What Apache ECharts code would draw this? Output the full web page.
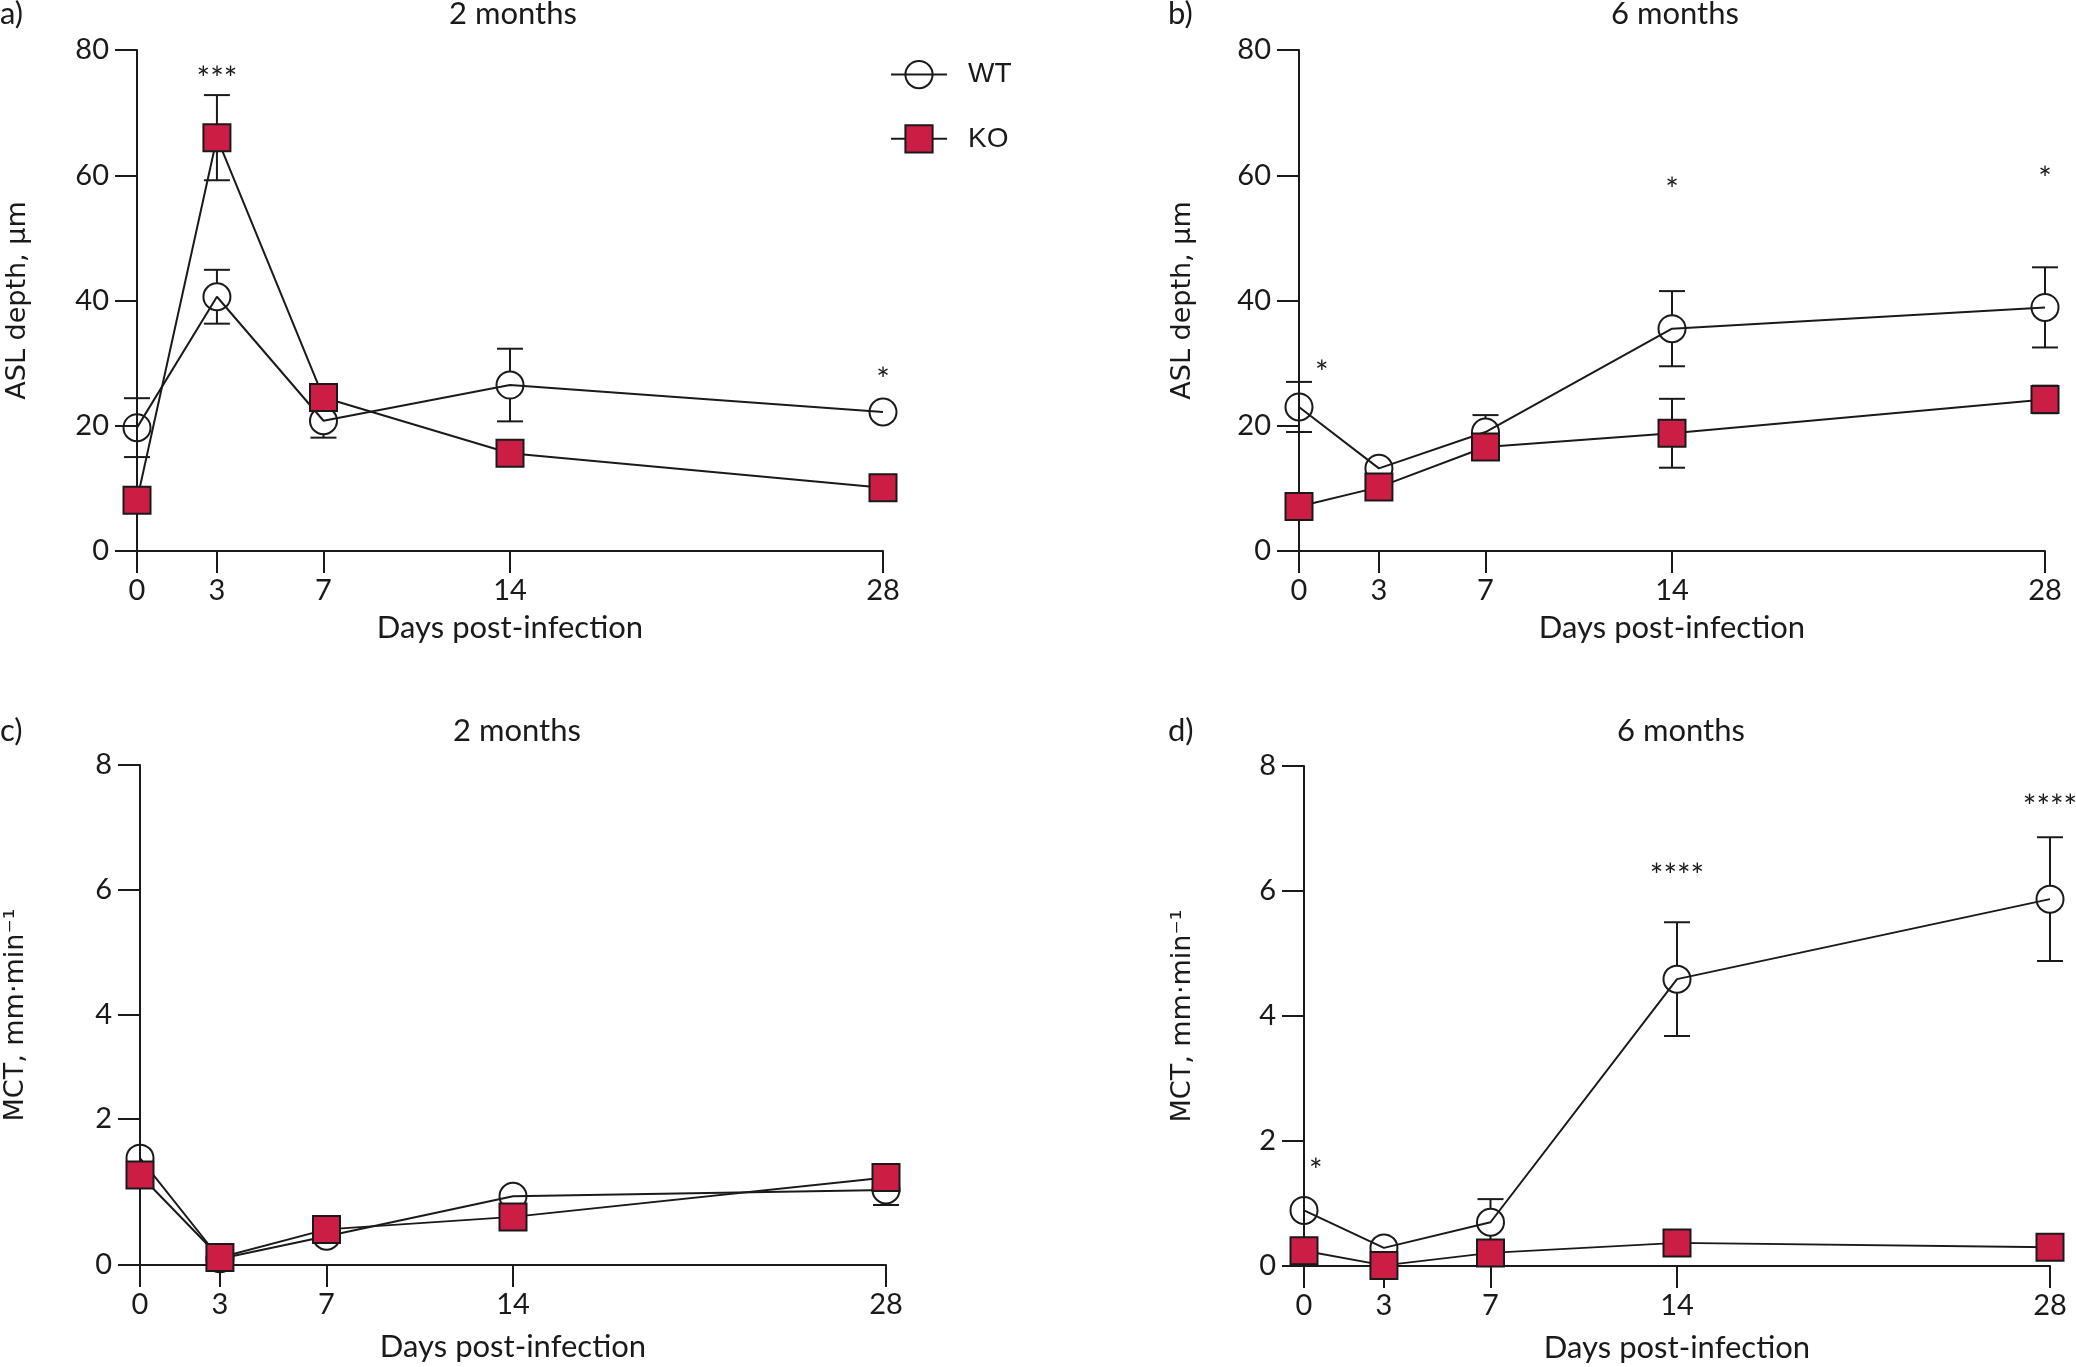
<!DOCTYPE html>
<html>
<head>
<meta charset="utf-8">
<script src="https://cdn.jsdelivr.net/npm/echarts@6/dist/echarts.min.js"></script>
<style>
  html, body { margin: 0; padding: 0; background: #fff; }
  #chart { width: 2076px; height: 1367px; }
</style>
</head>
<body>
<div id="chart"></div>
<script>
// x 轴：感染后天数
const days = [0, 3, 7, 14, 28];
const dayTicks = [0, 3, 7, 14, 28];

// a) ASL depth, 2 months
const aslWt2 = [19.7, 40.6, 20.8, 26.5, 22.2];
const aslWt2Err = [4.7, 4.3, 2.7, 5.8, 0.8];
const aslKo2 = [8.1, 66.0, 24.5, 15.6, 10.1];
const aslKo2Err = [1.0, 6.8, 1.5, 1.0, 1.0];

// b) ASL depth, 6 months
const aslWt6 = [23.0, 13.2, 19.0, 35.5, 38.9];
const aslWt6Err = [4.0, 1.0, 2.7, 6.0, 6.4];
const aslKo6 = [7.1, 10.2, 16.6, 18.8, 24.2];
const aslKo6Err = [1.0, 1.0, 1.2, 5.5, 2.2];

// c) MCT, 2 months
const mctWt2 = [1.71, 0.10, 0.46, 1.10, 1.20];
const mctWt2Err = [0.1, 0.05, 0.1, 0.1, 0.24];
const mctKo2 = [1.44, 0.12, 0.57, 0.77, 1.40];
const mctKo2Err = [0.1, 0.05, 0.1, 0.1, 0.1];

// d) MCT, 6 months
const mctWt6 = [0.89, 0.29, 0.70, 4.59, 5.87];
const mctWt6Err = [0.1, 0.05, 0.37, 0.91, 0.99];
const mctKo6 = [0.245, 0.01, 0.21, 0.37, 0.30];
const mctKo6Err = [0.05, 0.05, 0.05, 0.05, 0.05];

// 显著性标记
const sigXa = [3, 28], sigYa = [76.7, 28.6], sigTa = ['***', '*'];
const sigXb = [0.86, 14, 28], sigYb = [29.8, 58.9, 60.8], sigTb = ['*', '*', '*'];
const sigXc = [], sigYc = [], sigTc = [];
const sigXd = [0.44, 14, 28], sigYd = [1.66, 6.37, 7.48], sigTd = ['*', '****', '****'];

// y 轴刻度（原图 c 的 "2" 刻度位置偏上）
const yTicksAB = [0, 20, 40, 60, 80];
const yTicksC = [0, 2.34, 4, 6, 8];
const yTicksD = [0, 2, 4, 6, 8];

const panelLabels = ['a)', 'b)', 'c)', 'd)'];
const panelTitles = ['2 months', '6 months', '2 months', '6 months'];
const yNames = ['ASL depth, µm', 'ASL depth, µm', 'MCT, mm·min⁻¹', 'MCT, mm·min⁻¹'];
const yMax = [80, 80, 8, 8];

const panels = [
  { wt: aslWt2, wtErr: aslWt2Err, ko: aslKo2, koErr: aslKo2Err, sx: sigXa, sy: sigYa, st: sigTa, yt: yTicksAB },
  { wt: aslWt6, wtErr: aslWt6Err, ko: aslKo6, koErr: aslKo6Err, sx: sigXb, sy: sigYb, st: sigTb, yt: yTicksAB },
  { wt: mctWt2, wtErr: mctWt2Err, ko: mctKo2, koErr: mctKo2Err, sx: sigXc, sy: sigYc, st: sigTc, yt: yTicksC },
  { wt: mctWt6, wtErr: mctWt6Err, ko: mctKo6, koErr: mctKo6Err, sx: sigXd, sy: sigYd, st: sigTd, yt: yTicksD }
];

// 布局
const grids = [
  { left: 137, top: 50, width: 746, height: 501 },
  { left: 1299, top: 50, width: 746, height: 501 },
  { left: 140, top: 765, width: 746, height: 500 },
  { left: 1304, top: 766, width: 746, height: 500 }
];
const labelPos = [[0, 14], [1168, 14], [0, 731], [1168, 731]];
const titlePos = [[513, 14], [1675, 14], [517, 731], [1681, 731]];
const yNameGap = [106, 103, 111, 108];
const xNameGap = [61, 61, 66, 66];

const INK = '#1a1a1a';
const RED = '#CC1E45';
const SYM = 27;
const numFont = 'Lato';

// 误差线：跳过符号内部的一段
function errorBar(radius) {
  return function (params, api) {
    const c = api.coord([api.value(0), api.value(1)]);
    const lo = api.coord([api.value(0), api.value(1) - api.value(2)]);
    const hi = api.coord([api.value(0), api.value(1) + api.value(2)]);
    const half = 13;
    const st = { stroke: INK, lineWidth: 2 };
    const kids = [];
    if (c[1] - hi[1] > radius) {
      kids.push({ type: 'line', shape: { x1: c[0], y1: c[1] - radius, x2: c[0], y2: hi[1] }, style: st });
      kids.push({ type: 'line', shape: { x1: c[0] - half, y1: hi[1], x2: c[0] + half, y2: hi[1] }, style: st });
    }
    if (lo[1] - c[1] > radius) {
      kids.push({ type: 'line', shape: { x1: c[0], y1: c[1] + radius, x2: c[0], y2: lo[1] }, style: st });
      kids.push({ type: 'line', shape: { x1: c[0] - half, y1: lo[1], x2: c[0] + half, y2: lo[1] }, style: st });
    }
    return { type: 'group', children: kids };
  };
}

function sigText(texts) {
  return function (params, api) {
    const p = api.coord([api.value(0), api.value(1)]);
    return {
      type: 'text',
      x: p[0], y: p[1] + 9,
      style: { text: texts[params.dataIndex], fill: INK, font: '32px ' + numFont, align: 'center', verticalAlign: 'middle' }
    };
  };
}

const xAxes = [], yAxes = [], series = [], graphics = [];

panels.forEach((p, i) => {
  xAxes.push({
    gridIndex: i, type: 'value', min: 0, max: 28,
    axisLine: { show: true, lineStyle: { color: INK, width: 2 } },
    axisTick: { show: true, length: 22, customValues: dayTicks, lineStyle: { color: INK, width: 2 } },
    axisLabel: { customValues: dayTicks, fontSize: 29, fontFamily: numFont, color: INK, margin: 25 },
    splitLine: { show: false },
    name: 'Days post-infection', nameLocation: 'middle', nameGap: xNameGap[i],
    nameTextStyle: { fontSize: 31, fontFamily: numFont, color: INK }
  });
  yAxes.push({
    gridIndex: i, type: 'value', min: 0, max: yMax[i],
    axisLine: { show: true, lineStyle: { color: INK, width: 2 } },
    axisTick: { show: true, length: 22, customValues: p.yt, lineStyle: { color: INK, width: 2 } },
    axisLabel: {
      customValues: p.yt, fontSize: 29, fontFamily: numFont, color: INK, margin: 28,
      formatter: v => String(Math.round(v))
    },
    splitLine: { show: false },
    name: yNames[i], nameLocation: 'middle', nameRotate: 90, nameGap: yNameGap[i],
    nameTextStyle: { fontSize: 27, fontFamily: 'DejaVu Sans', color: INK }
  });

  series.push({
    type: 'custom', xAxisIndex: i, yAxisIndex: i, z: 1,
    renderItem: errorBar(SYM / 2),
    data: days.map((d, k) => [d, p.wt[k], p.wtErr[k]])
  });
  series.push({
    type: 'custom', xAxisIndex: i, yAxisIndex: i, z: 1,
    renderItem: errorBar(SYM / 2),
    data: days.map((d, k) => [d, p.ko[k], p.koErr[k]])
  });
  series.push({
    name: 'WT', type: 'line', xAxisIndex: i, yAxisIndex: i, z: 2, clip: false,
    symbol: 'circle', symbolSize: SYM,
    itemStyle: { color: 'rgba(0,0,0,0)', borderColor: INK, borderWidth: 2 },
    lineStyle: { color: INK, width: 2 },
    data: days.map((d, k) => [d, p.wt[k]])
  });
  series.push({
    name: 'KO', type: 'line', xAxisIndex: i, yAxisIndex: i, z: 3, clip: false,
    symbol: 'rect', symbolSize: SYM,
    itemStyle: { color: RED, borderColor: INK, borderWidth: 2 },
    lineStyle: { color: INK, width: 2 },
    data: days.map((d, k) => [d, p.ko[k]])
  });
  series.push({
    type: 'custom', xAxisIndex: i, yAxisIndex: i, z: 4,
    renderItem: sigText(p.st),
    data: p.sx.map((x, k) => [x, p.sy[k]])
  });

  graphics.push({
    type: 'text', x: labelPos[i][0], y: labelPos[i][1],
    style: { text: panelLabels[i], fill: INK, font: '31px ' + numFont, align: 'left', verticalAlign: 'middle' }
  });
  graphics.push({
    type: 'text', x: titlePos[i][0], y: titlePos[i][1],
    style: { text: panelTitles[i], fill: INK, font: '31px ' + numFont, align: 'center', verticalAlign: 'middle' }
  });
});

const option = {
  animation: false,
  backgroundColor: '#fff',
  grid: grids.map(g => Object.assign({ containLabel: false, outerBoundsMode: 'none' }, g)),
  xAxis: xAxes,
  yAxis: yAxes,
  legend: {
    data: ['WT', 'KO'],
    orient: 'vertical',
    left: 885, top: 55,
    itemWidth: 56, itemHeight: 34, itemGap: 35,
    textStyle: { fontSize: 28, fontFamily: 'Liberation Sans', color: INK, padding: [0, 0, 0, 16] },
    selectedMode: false
  },
  graphic: graphics,
  series: series
};

const chart = echarts.init(document.getElementById('chart'));
chart.setOption(option);
</script>
</body>
</html>
